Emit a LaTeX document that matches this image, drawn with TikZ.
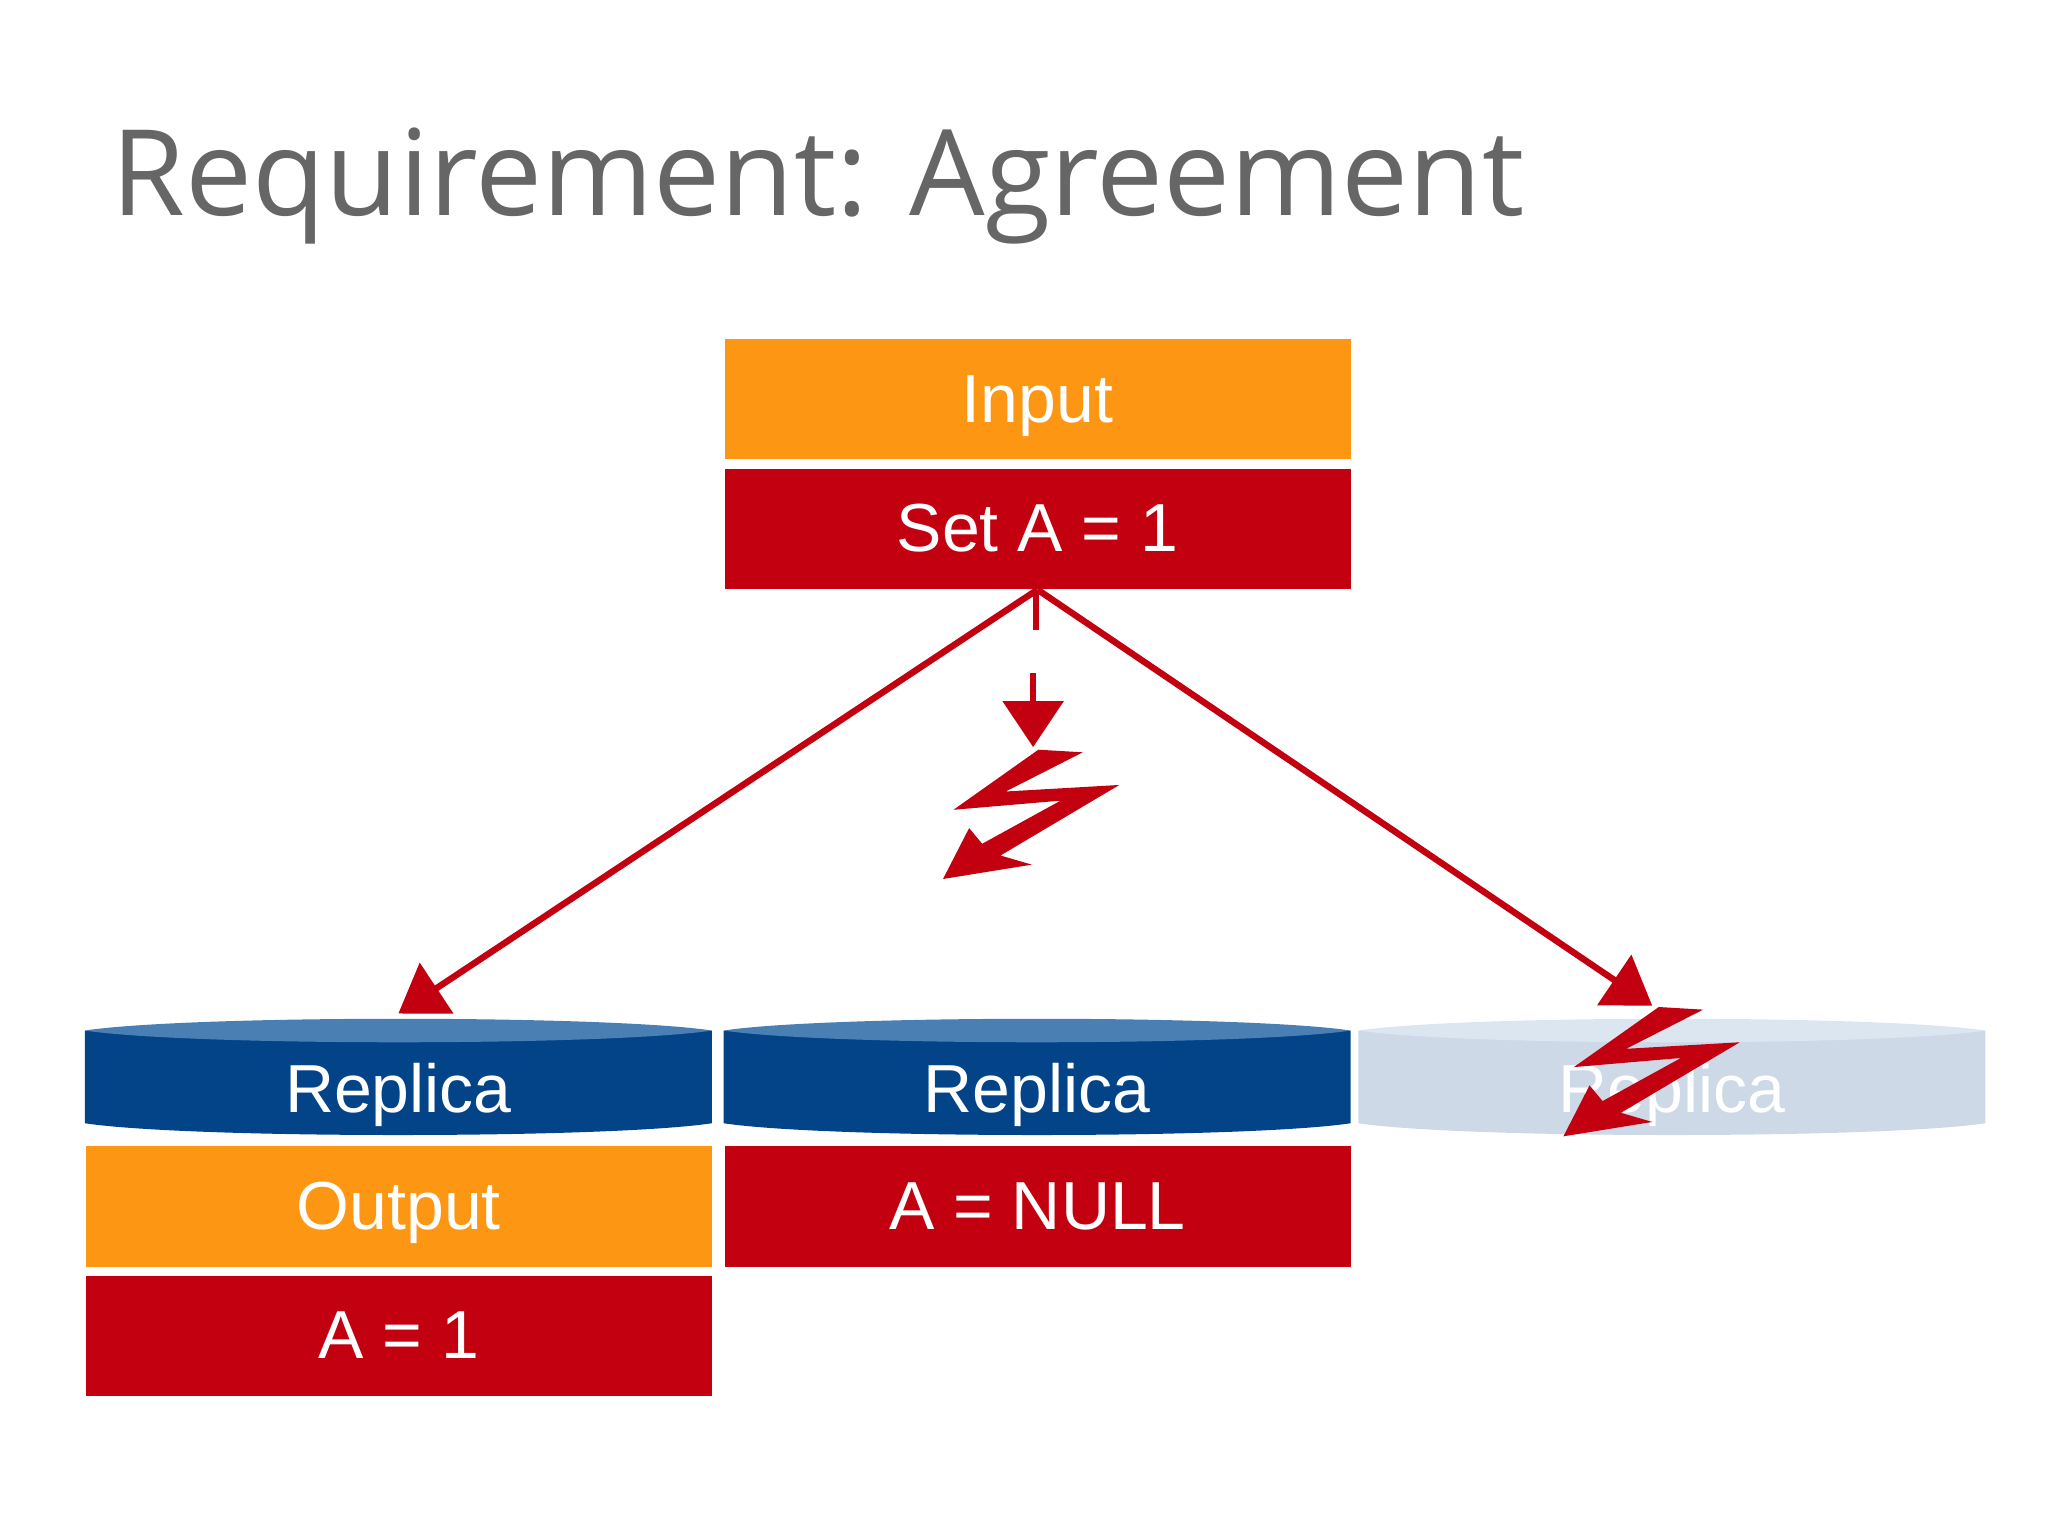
\documentclass[tikz,border=0pt]{standalone}
\usepackage{fontspec}
\setmainfont{Liberation Sans}
\newfontfamily\titlefont{Open Sans}
\usetikzlibrary{arrows.meta}
\definecolor{ora}{HTML}{FD9613}
\definecolor{rd}{HTML}{C3000F}
\definecolor{blu}{HTML}{034488}
\definecolor{blut}{HTML}{4A7FB4}
\definecolor{lbl}{HTML}{CDD9E6}
\definecolor{lblt}{HTML}{DCE6F0}
\definecolor{gr}{HTML}{666666}
\begin{document}
\begin{tikzpicture}[x=0.01cm,y=-0.01cm,
  txt/.style={text=white,font=\fontsize{14.8}{15}\selectfont,text height=11pt,text depth=1pt},
  box/.style={fill=#1,draw=none,minimum width=4.79cm,minimum height=0.92cm,inner sep=0,txt},
  arr/.style={draw=rd,line width=1.4pt,-{Triangle[length=10pt,width=13pt]}},
  bolt/.style={fill=rd,draw=none}]
\useasboundingbox (0,0) rectangle (1568,1176);
\node[text=gr,anchor=base west,font=\titlefont\fontsize{26}{27}\selectfont,inner sep=0] (title) at (85,165) {Requirement: Agreement};
\node[box=ora,anchor=north west] (input) at (554,259) {Input};
\node[box=rd,anchor=north west] (set) at (554,358) {Set A = 1};
\node[box=ora,anchor=north west] (out) at (65,877) {Output};
\node[box=rd,anchor=north west] (a1) at (65,976) {A = 1};
\node[box=rd,anchor=north west] (anull) at (554,877) {A = NULL};
% cylinders
\foreach \x/\b/\t in {65/blu/blut,554/blu/blut,1040/lbl/lblt}{
  \fill[\b] (\x,789) -- (\x,860) .. controls (\x+80,872) and (\x+400,872) .. (\x+480,860) -- (\x+480,789) -- cycle;
  \fill[\t] (\x,789) .. controls (\x+80,777) and (\x+400,777) .. (\x+480,789) .. controls (\x+400,801) and (\x+80,801) .. (\x,789);
}
\node[txt] (rep1) at (305,834) {Replica};
\node[txt] (rep2) at (794,834) {Replica};
\node[txt] (rep3) at (1280,834) {Replica};
\coordinate (l) at (305,776);
\coordinate (r) at (1265,770);
\coordinate (m) at (791,572);
\draw[arr] (set.south) -- (l);
\draw[arr] (set.south) -- (r);
\draw[draw=rd,line width=1.4pt] (793,453) -- (793,482);
\draw[arr] (791,515) -- (m);
\foreach \dx/\dy in {0/0,475/197}{
\begin{scope}[shift={(\dx,\dy)}]
\fill[rd] (795,574) -- (829,576) -- (770,606) -- (857,601) -- (766,655) -- (790,662) -- (722,673) -- (742,634) -- (752,646) -- (812,613) -- (730,620) -- cycle;
\end{scope}}
\end{tikzpicture}
\end{document}
